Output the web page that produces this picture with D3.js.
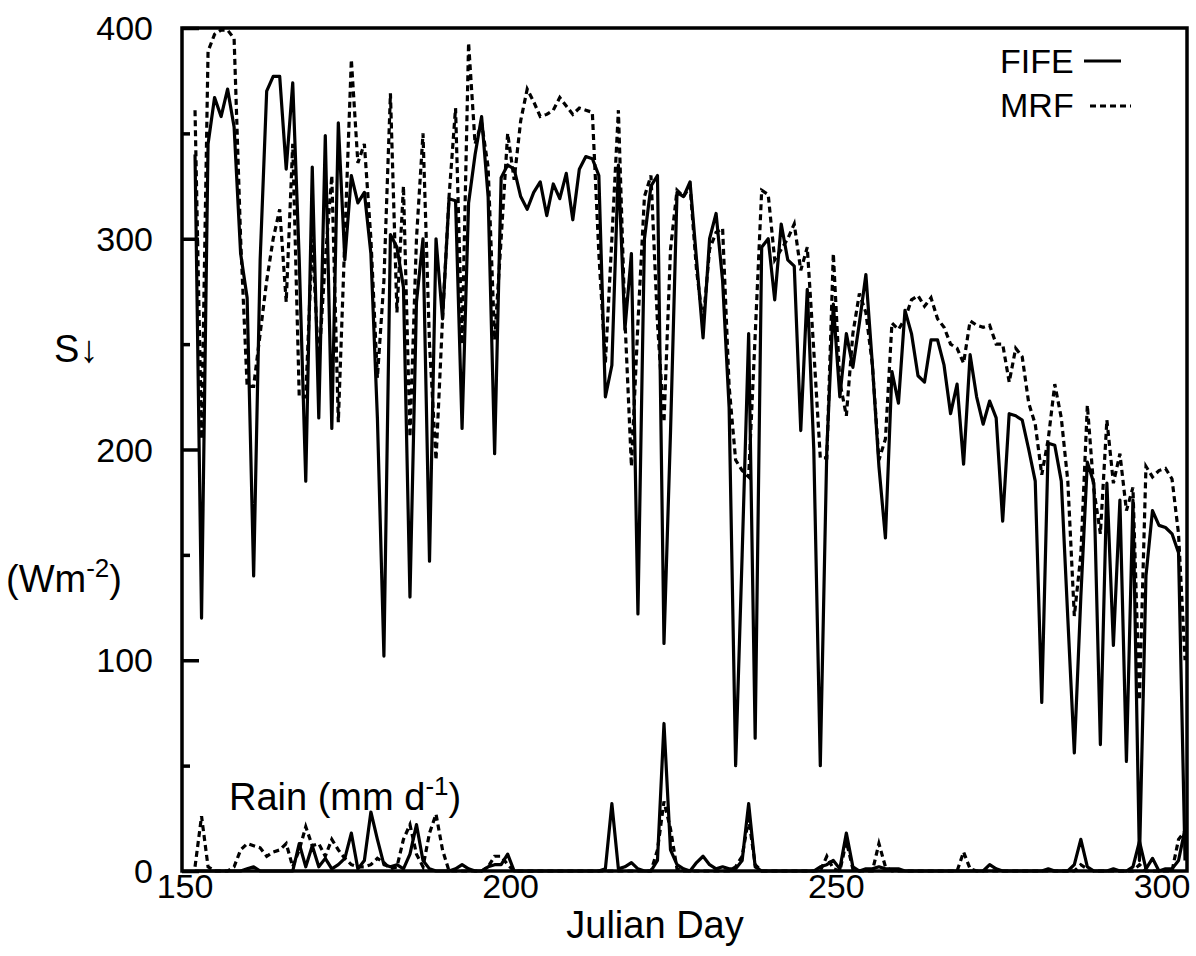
<!DOCTYPE html>
<html>
<head>
<meta charset="utf-8">
<script src="https://cdn.jsdelivr.net/npm/d3@7"></script>
<style>
    body { margin: 0; background: #fff; }
    text { font-family: "Liberation Sans", Arial, sans-serif; fill: #000; }
    .tickLabel { font-size: 34px; }
    .axisLabel { font-size: 38px; }
    .legendLabel { font-size: 34px; }
    .sup { font-size: 26px; }
</style>
</head>
<body>
<script>
//first and last julian day of the record
const firstDay = 152;
const lastDay = 304;

//FIFE observed downward shortwave (W m-2), one value a day from day 152
const fifeS = [
    340, 120, 345, 367, 358, 371, 353, 293, 272, 140,
    290, 370, 377, 377, 333, 374, 290, 185, 334, 215,
    349, 210, 355, 290, 330, 317, 322, 293, 215, 102,
    302, 296, 277, 130, 270, 300, 147, 300, 262, 319,
    318, 210, 317, 340, 358, 320, 198, 329, 335, 333,
    320, 314, 322, 327, 311, 326, 319, 331, 309, 333,
    339, 338, 330, 225, 240, 335, 257, 293, 122, 300,
    325, 330, 108, 208, 322, 320, 327, 290, 253, 300,
    312, 280, 220, 50, 150, 255, 63, 296, 300, 271,
    307, 290, 287, 209, 276, 200, 50, 200, 269, 225,
    255, 239, 260, 283, 240, 192, 158, 237, 222, 266,
    255, 235, 232, 252, 252, 240, 217, 231, 193, 245,
    225, 212, 223, 215, 166, 217, 216, 214, 200, 185,
    80, 203, 202, 185, 120, 56, 130, 194, 184, 60,
    184, 107, 176, 52, 176, 5, 140, 171, 164, 163,
    160, 151, 5
];

//MRF model downward shortwave (W m-2)
const mrfS = [
    361, 205, 389, 397, 399, 399, 395, 300, 230, 230,
    255, 280, 300, 314, 270, 345, 225, 225, 300, 240,
    290, 330, 213, 300, 385, 336, 345, 300, 234, 280,
    369, 265, 325, 206, 300, 350, 250, 195, 262, 320,
    362, 250, 393, 345, 355, 334, 252, 300, 350, 328,
    356, 371, 365, 358, 359, 361, 367, 363, 359, 362,
    361, 360, 293, 241, 300, 361, 262, 192, 260, 320,
    330, 260, 213, 295, 323, 320, 325, 285, 260, 295,
    303, 305, 230, 195, 190, 187, 254, 323, 321, 290,
    295, 300, 307, 285, 296, 247, 196, 196, 293, 232,
    216, 255, 274, 265, 240, 195, 205, 260, 257, 262,
    271, 273, 268, 272, 262, 258, 250, 248, 241, 261,
    259, 258, 259, 250, 250, 232, 248, 244, 222, 212,
    188, 205, 231, 215, 185, 121, 150, 221, 181, 160,
    214, 184, 198, 171, 182, 81, 192, 187, 190, 191,
    186, 160, 100
];

//FIFE observed rain (mm d-1)
const fifeRain = [
    0, 0, 0, 0, 0, 0, 0, 0, 1, 2,
    0, 0, 0, 0, 0, 0, 13, 2, 12, 2,
    6, 1, 3, 6, 18, 1, 5, 28, 15, 3,
    2, 3, 1, 8, 22, 5, 1, 0, 0, 0,
    1, 3, 1, 0, 0, 2, 3, 3, 8, 0,
    0, 0, 0, 0, 0, 0, 0, 0, 0, 0,
    0, 0, 0, 1, 32, 1, 2, 4, 1, 0,
    0, 5, 70, 10, 3, 1, 0, 4, 7, 3,
    1, 2, 1, 1, 5, 32, 2, 0, 0, 0,
    0, 0, 0, 0, 0, 0, 2, 3, 5, 1,
    18, 2, 0, 1, 1, 2, 1, 1, 1, 0,
    0, 0, 0, 0, 0, 0, 0, 0, 0, 0,
    0, 0, 3, 1, 0, 0, 0, 0, 0, 0,
    0, 1, 0, 0, 0, 3, 15, 2, 0, 0,
    0, 1, 0, 0, 2, 14, 1, 6, 0, 1,
    1, 5, 20
];

//MRF model rain (mm d-1)
const mrfRain = [
    2, 26, 2, 0, 0, 0, 2, 10, 13, 12,
    11, 7, 9, 10, 13, 2, 10, 21, 12, 13,
    7, 15, 10, 6, 3, 2, 2, 3, 6, 4,
    1, 2, 15, 22, 8, 2, 18, 27, 10, 0,
    0, 0, 0, 0, 0, 2, 7, 7, 3, 0,
    0, 0, 0, 0, 0, 0, 0, 0, 0, 0,
    0, 0, 0, 0, 0, 0, 0, 0, 0, 0,
    0, 10, 33, 20, 1, 0, 0, 0, 0, 0,
    0, 0, 0, 2, 7, 25, 3, 0, 0, 0,
    0, 0, 0, 0, 0, 0, 0, 7, 1, 0,
    14, 1, 0, 0, 0, 13, 2, 0, 0, 0,
    0, 0, 0, 0, 0, 0, 0, 0, 9, 1,
    0, 0, 0, 0, 0, 0, 0, 0, 0, 0,
    0, 0, 0, 0, 0, 0, 3, 1, 0, 0,
    0, 0, 0, 0, 0, 3, 0, 0, 0, 0,
    0, 15, 19
];

//axis ticks
const xTicks = [150, 200, 250, 300];
const yTicks = [0, 100, 200, 300, 400];
const yMinorTicks = [50, 150, 250, 350];

function init() {
    var svg, xScale, yScale, days, line, plot;

    //frame of the plot in page pixels
    const left = 182, right = 1187, top = 28, bottom = 871;
    const lineWidth = 3.2;

    days = d3.range(firstDay, lastDay + 1);

    svg = d3.select("body")
        .append("svg")
        .attr("width", 1196)
        .attr("height", 956);

    //x scale: julian day
    xScale = d3.scaleLinear()
        .domain([150, 304.3])
        .range([left, right]);

    //y scale: same units used for S and rain
    yScale = d3.scaleLinear()
        .domain([0, 400])
        .range([bottom, top]);

    plot = svg.append("g");

    //line generator on day index
    line = function (values) {
        return d3.line()
            .x(function (d, i) { return xScale(days[i]); })
            .y(function (d) { return yScale(d); })(values);
    };

    //rain lines first, then radiation
    plot.append("path")
        .attr("d", line(mrfRain))
        .attr("fill", "none")
        .attr("stroke", "#000")
        .attr("stroke-width", lineWidth)
        .attr("stroke-dasharray", "6,4");

    plot.append("path")
        .attr("d", line(fifeRain))
        .attr("fill", "none")
        .attr("stroke", "#000")
        .attr("stroke-width", lineWidth)
        .attr("stroke-linejoin", "round");

    plot.append("path")
        .attr("d", line(mrfS))
        .attr("fill", "none")
        .attr("stroke", "#000")
        .attr("stroke-width", lineWidth)
        .attr("stroke-dasharray", "6,4");

    plot.append("path")
        .attr("d", line(fifeS))
        .attr("fill", "none")
        .attr("stroke", "#000")
        .attr("stroke-width", lineWidth)
        .attr("stroke-linejoin", "round");

    //left axis with inward ticks
    svg.append("g")
        .attr("transform", "translate(" + left + ",0)")
        .call(d3.axisRight(yScale).tickValues(yTicks).tickSize(17).tickFormat(""))
        .call(function (g) { g.select(".domain").remove(); })
        .selectAll("line").attr("stroke-width", 3.5);

    svg.append("g")
        .attr("transform", "translate(" + left + ",0)")
        .call(d3.axisRight(yScale).tickValues(yMinorTicks).tickSize(8).tickFormat(""))
        .call(function (g) { g.select(".domain").remove(); })
        .selectAll("line").attr("stroke-width", 3.5);

    //y tick labels
    svg.append("g")
        .selectAll("text")
        .data(yTicks)
        .enter()
        .append("text")
        .attr("class", "tickLabel")
        .attr("x", left - 29)
        .attr("y", function (d) { return yScale(d) + 12; })
        .attr("text-anchor", "end")
        .text(function (d) { return d; });

    //x tick labels
    svg.append("g")
        .selectAll("text")
        .data(xTicks)
        .enter()
        .append("text")
        .attr("class", "tickLabel")
        .attr("x", function (d) { return xScale(d) + 3; })
        .attr("y", 898)
        .attr("text-anchor", "middle")
        .text(function (d) { return d; });

    //frame
    svg.append("rect")
        .attr("x", left)
        .attr("y", top)
        .attr("width", right - left)
        .attr("height", bottom - top)
        .attr("fill", "none")
        .attr("stroke", "#000")
        .attr("stroke-width", 3.5);

    //axis titles
    svg.append("text")
        .attr("class", "axisLabel")
        .attr("x", 655)
        .attr("y", 938)
        .attr("text-anchor", "middle")
        .text("Julian Day");

    svg.append("text")
        .attr("class", "axisLabel")
        .attr("x", 54)
        .attr("y", 362)
        .text("S\u2193");

    var wm = svg.append("text")
        .attr("class", "axisLabel")
        .attr("x", 6)
        .attr("y", 592);
    wm.append("tspan").text("(Wm");
    wm.append("tspan").attr("class", "sup").attr("dy", -15).text("-2");
    wm.append("tspan").attr("dy", 15).text(")");

    var rain = svg.append("text")
        .attr("class", "axisLabel")
        .attr("x", 229)
        .attr("y", 810);
    rain.append("tspan").text("Rain (mm d");
    rain.append("tspan").attr("class", "sup").attr("dy", -15).text("-1");
    rain.append("tspan").attr("dy", 15).text(")");

    //legend
    var legend = svg.append("g");

    legend.append("text")
        .attr("class", "legendLabel")
        .attr("x", 1000)
        .attr("y", 73)
        .text("FIFE");

    legend.append("line")
        .attr("x1", 1084).attr("x2", 1121)
        .attr("y1", 61).attr("y2", 61)
        .attr("stroke", "#000")
        .attr("stroke-width", lineWidth);

    legend.append("text")
        .attr("class", "legendLabel")
        .attr("x", 1000)
        .attr("y", 117)
        .text("MRF");

    legend.append("line")
        .attr("x1", 1090).attr("x2", 1131)
        .attr("y1", 106).attr("y2", 106)
        .attr("stroke", "#000")
        .attr("stroke-width", lineWidth)
        .attr("stroke-dasharray", "6,4");
}

window.onload = init;
</script>
</body>
</html>
